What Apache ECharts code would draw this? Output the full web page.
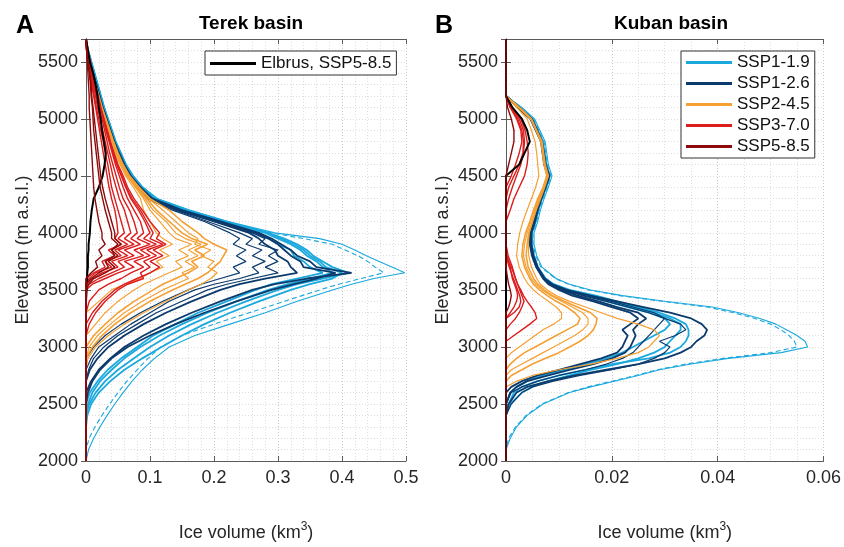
<!DOCTYPE html>
<html><head><meta charset="utf-8">
<script src="https://cdn.jsdelivr.net/npm/echarts/dist/echarts.min.js"></script>
<style>html,body{margin:0;padding:0;background:#fff}#c{width:844px;height:547px}</style>
</head><body><div id="c"></div>
<script>
// ---------- Panel A: Terek basin (elevation grid, m a.s.l.) ----------
const elevA = [2000,2100,2200,2300,2400,2500,2600,2700,2800,2900,
  3000,3100,3200,3300,3400,3500,
  3550,3600,3650,3700,3750,3800,3850,3900,3950,
  4000,4100,4200,4300,4400,4500,4600,4700,4800,4900,
  5000,5100,5200,5300,5400,5500,5600,5700];

// ice volume (km3) per elevation, one array per profile
const terekSSP119 = [
 [0,0.004,0.012,0.022,0.033,0.045,0.058,0.072,0.088,0.107, 0.13,0.17,0.225,0.28,0.33,0.385, 0.415,0.45,0.498,0.478,0.458,0.438,0.42,0.40,0.365, 0.295,0.222,0.162,0.112,0.089,0.074,0.063,0.055,0.047,0.041, 0.035,0.029,0.024,0.019,0.014,0.009,0.004,0],
 [0,0,0,0,0,0.005,0.015,0.03,0.05,0.075, 0.1,0.13,0.165,0.205,0.25,0.3, 0.33,0.37,0.41,0.385,0.37,0.355,0.345,0.33,0.31, 0.285,0.218,0.158,0.109,0.088,0.073,0.062,0.054,0.046,0.04, 0.034,0.028,0.023,0.018,0.013,0.008,0.003,0],
 [0,0,0,0,0,0.003,0.01,0.022,0.04,0.06, 0.085,0.115,0.15,0.19,0.235,0.285, 0.315,0.35,0.385,0.37,0.36,0.345,0.335,0.32,0.3, 0.28,0.215,0.156,0.108,0.087,0.072,0.061,0.053,0.045,0.039, 0.033,0.027,0.022,0.017,0.012,0.007,0.003,0],
 [0,0,0,0,0,0,0.006,0.018,0.034,0.055, 0.08,0.105,0.14,0.175,0.22,0.265, 0.29,0.33,0.37,0.35,0.34,0.325,0.32,0.3,0.285, 0.27,0.21,0.152,0.106,0.086,0.071,0.06,0.052,0.044,0.038, 0.032,0.026,0.021,0.016,0.011,0.006,0.002,0],
 [0,0,0,0,0.002,0.008,0.02,0.038,0.06,0.088, 0.118,0.15,0.185,0.225,0.27,0.32, 0.35,0.385,0.4,0.375,0.365,0.35,0.34,0.325,0.305, 0.283,0.217,0.157,0.108,0.088,0.073,0.062,0.054,0.046,0.04, 0.034,0.028,0.023,0.018,0.013,0.008,0.003,0]
];
const terekSSP119Dashed = [0,0,0.005,0.014,0.025,0.037,0.05,0.064,0.08,0.097, 0.117,0.15,0.2,0.255,0.31,0.365, 0.395,0.43,0.465,0.452,0.44,0.425,0.405,0.385,0.34, 0.29,0.218,0.158,0.108,0.087,0.072,0.061,0.053,0.045,0.039, 0.033,0.027,0.022,0.017,0.012,0.007,0.002,0];
const terekSSP126 = [
 [0,0,0,0,0,0,0,0.008,0.02,0.038, 0.06,0.09,0.125,0.165,0.21,0.26, 0.295,0.345,0.415,0.36,0.35,0.33,0.32,0.305,0.29, 0.27,0.21,0.15,0.104,0.085,0.07,0.06,0.052,0.044,0.038, 0.032,0.026,0.021,0.016,0.011,0.006,0.002,0],
 [0,0,0,0,0,0,0,0,0.006,0.018, 0.035,0.06,0.09,0.125,0.165,0.21, 0.24,0.28,0.33,0.32,0.315,0.3,0.295,0.28,0.27, 0.255,0.2,0.145,0.1,0.082,0.068,0.058,0.05,0.043,0.037, 0.031,0.025,0.02,0.015,0.01,0.006,0.002,0],
 [0,0,0,0,0,0,0.003,0.01,0.022,0.04, 0.065,0.1,0.14,0.185,0.235,0.29, 0.325,0.36,0.39,0.34,0.335,0.32,0.31,0.3,0.285, 0.265,0.205,0.148,0.102,0.084,0.069,0.059,0.051,0.044,0.038, 0.032,0.026,0.021,0.016,0.011,0.006,0.002,0],
 [0,0,0,0,0,0,0,0,0,0.008, 0.02,0.045,0.07,0.1,0.13,0.17, 0.2,0.24,0.27,0.26,0.28,0.26,0.275,0.25,0.26, 0.24,0.19,0.14,0.098,0.08,0.067,0.057,0.049,0.042,0.036, 0.03,0.025,0.02,0.015,0.01,0.005,0.002,0],
 [0,0,0,0,0,0,0,0,0,0, 0.012,0.03,0.055,0.085,0.12,0.16, 0.18,0.21,0.24,0.23,0.25,0.235,0.25,0.23,0.24, 0.225,0.185,0.135,0.096,0.079,0.066,0.056,0.048,0.041,0.035, 0.03,0.024,0.019,0.014,0.01,0.005,0.002,0],
 [0,0,0,0,0,0,0,0,0.004,0.012, 0.028,0.05,0.08,0.11,0.15,0.19, 0.22,0.26,0.3,0.28,0.3,0.285,0.3,0.27,0.28, 0.26,0.2,0.142,0.099,0.081,0.067,0.057,0.049,0.042,0.036, 0.031,0.025,0.02,0.015,0.01,0.005,0.002,0]
];
const terekSSP245 = [
 [0,0,0,0,0,0,0,0,0,0, 0.01,0.025,0.045,0.07,0.1,0.135, 0.155,0.175,0.19,0.2,0.21,0.215,0.22,0.2,0.185, 0.175,0.15,0.13,0.1,0.083,0.068,0.058,0.05,0.043,0.037, 0.031,0.025,0.02,0.015,0.01,0.006,0.002,0],
 [0,0,0,0,0,0,0,0,0,0, 0,0.012,0.03,0.05,0.075,0.105, 0.12,0.14,0.16,0.175,0.165,0.185,0.17,0.19,0.165, 0.15,0.13,0.11,0.095,0.08,0.066,0.056,0.048,0.042,0.036, 0.03,0.024,0.019,0.014,0.01,0.005,0.002,0],
 [0,0,0,0,0,0,0,0,0,0, 0,0,0.015,0.03,0.05,0.075, 0.09,0.11,0.13,0.15,0.14,0.16,0.145,0.165,0.14, 0.13,0.115,0.1,0.09,0.077,0.064,0.055,0.047,0.041,0.035, 0.029,0.024,0.019,0.014,0.009,0.005,0.002,0],
 [0,0,0,0,0,0,0,0,0,0, 0,0,0,0,0.02,0.04, 0.06,0.085,0.1,0.12,0.11,0.13,0.115,0.135,0.12, 0.11,0.1,0.09,0.085,0.074,0.062,0.053,0.046,0.04,0.034, 0.028,0.023,0.018,0.013,0.009,0.005,0.002,0],
 [0,0,0,0,0,0,0,0,0,0.003, 0.015,0.035,0.06,0.09,0.125,0.16, 0.18,0.195,0.205,0.19,0.2,0.18,0.195,0.17,0.175, 0.16,0.14,0.12,0.098,0.082,0.067,0.057,0.049,0.043,0.037, 0.031,0.025,0.02,0.015,0.01,0.006,0.002,0],
 [0,0,0,0,0,0,0,0,0,0, 0.005,0.018,0.038,0.06,0.088,0.12, 0.14,0.16,0.15,0.17,0.155,0.175,0.16,0.18,0.155, 0.14,0.125,0.105,0.092,0.078,0.065,0.055,0.047,0.041,0.035, 0.029,0.024,0.019,0.014,0.009,0.005,0.002,0]
];
const terekSSP370 = [
 [0,0,0,0,0,0,0,0,0,0, 0,0,0,0,0,0, 0.01,0.03,0.05,0.075,0.06,0.09,0.075,0.1,0.08, 0.09,0.085,0.075,0.065,0.058,0.052,0.046,0.041,0.036,0.031, 0.027,0.022,0.018,0.014,0.01,0.006,0.002,0],
 [0,0,0,0,0,0,0,0,0,0, 0,0,0,0,0,0, 0,0.01,0.025,0.05,0.04,0.065,0.05,0.075,0.06, 0.07,0.065,0.06,0.052,0.047,0.042,0.038,0.034,0.03,0.026, 0.022,0.018,0.015,0.011,0.008,0.004,0.001,0],
 [0,0,0,0,0,0,0,0,0,0, 0,0,0,0.01,0.025,0.045, 0.06,0.08,0.1,0.115,0.1,0.12,0.105,0.125,0.11, 0.115,0.1,0.088,0.075,0.065,0.058,0.05,0.044,0.038,0.033, 0.028,0.023,0.019,0.015,0.011,0.007,0.003,0],
 [0,0,0,0,0,0,0,0,0,0, 0,0,0,0,0,0, 0,0,0.012,0.03,0.025,0.045,0.035,0.055,0.045, 0.05,0.048,0.045,0.04,0.036,0.033,0.03,0.027,0.024,0.021, 0.018,0.015,0.012,0.009,0.006,0.003,0.001,0],
 [0,0,0,0,0,0,0,0,0,0, 0,0,0,0,0.005,0.02, 0.035,0.055,0.07,0.09,0.075,0.1,0.085,0.11,0.09, 0.1,0.092,0.082,0.07,0.062,0.055,0.048,0.042,0.037,0.032, 0.027,0.022,0.018,0.014,0.01,0.006,0.002,0],
 [0,0,0,0,0,0,0,0,0,0, 0,0,0,0,0,0, 0.005,0.02,0.04,0.06,0.05,0.075,0.06,0.085,0.07, 0.08,0.075,0.068,0.058,0.052,0.047,0.042,0.037,0.033,0.029, 0.025,0.02,0.016,0.012,0.009,0.005,0.002,0],
 [0,0,0,0,0,0,0,0,0,0, 0,0,0.005,0.015,0.03,0.05, 0.065,0.09,0.085,0.1,0.09,0.11,0.095,0.12,0.1, 0.105,0.095,0.085,0.072,0.063,0.056,0.049,0.043,0.038,0.033, 0.028,0.023,0.018,0.014,0.01,0.006,0.002,0],
 [0,0,0,0,0,0,0,0,0,0, 0,0,0,0,0,0, 0,0.005,0.015,0.04,0.03,0.055,0.045,0.065,0.05, 0.06,0.055,0.05,0.045,0.04,0.037,0.034,0.03,0.027,0.023, 0.02,0.016,0.013,0.01,0.007,0.004,0.001,0]
];
const terekSSP585 = [
 [0,0,0,0,0,0,0,0,0,0, 0,0,0,0,0,0, 0,0.008,0.02,0.035,0.03,0.045,0.04,0.05,0.04, 0.04,0.035,0.03,0.026,0.022,0.02,0.018,0.016,0.014,0.012, 0.011,0.01,0.008,0.007,0.005,0.003,0.001,0],
 [0,0,0,0,0,0,0,0,0,0, 0,0,0,0,0,0, 0,0,0.008,0.018,0.015,0.025,0.02,0.03,0.025, 0.025,0.02,0.017,0.014,0.012,0.011,0.01,0.009,0.008,0.007, 0.006,0.005,0.005,0.004,0.003,0.002,0.001,0],
 [0,0,0,0,0,0,0,0,0,0, 0,0,0,0,0,0, 0.004,0.012,0.03,0.045,0.035,0.05,0.04,0.055,0.045, 0.045,0.04,0.035,0.03,0.026,0.023,0.021,0.019,0.017,0.015, 0.013,0.011,0.009,0.008,0.006,0.003,0.001,0]
];
const terekElbrus = [0,0,0,0,0,0,0,0,0,0, 0,0,0,0,0,0.001, 0.001,0.002,0.002,0.003,0.003,0.003,0.004,0.004,0.005, 0.006,0.007,0.009,0.012,0.02,0.026,0.029,0.031,0.028,0.025, 0.023,0.02,0.018,0.015,0.011,0.006,0.003,0];

// ---------- Panel B: Kuban basin ----------
const elevB = [2000,2100,2200,2300,2400,2500,2600,
  2650,2700,2750,2800,2850,2900,2950,3000,3050,3100,
  3150,3200,3250,3300,3350,3400,3450,3500,3550,3600,
  3700,3800,3900,4000,4100,4200,4300,4400,4500,4600,
  4700,4800,4900,5000,5100,5200,5300,5400,5500,5600,5700];

const kubanSSP119 = [
 [0,0,0.0008,0.002,0.004,0.007,0.012, 0.016,0.0205,0.025,0.029,0.035,0.042,0.052,0.057,0.0565,0.055, 0.053,0.051,0.048,0.044,0.039,0.03,0.022,0.016,0.012,0.0095, 0.0068,0.0058,0.0053,0.0053,0.006,0.0065,0.0072,0.008,0.0087,0.008, 0.0077,0.0074,0.0064,0.0054,0.003,0,0,0,0,0,0],
 [0,0,0,0,0,0.0005,0.0015, 0.003,0.006,0.01,0.015,0.02,0.027,0.031,0.033,0.034,0.0345, 0.0345,0.034,0.032,0.029,0.025,0.021,0.017,0.012,0.009,0.0075, 0.006,0.0053,0.0049,0.0049,0.0056,0.0061,0.0068,0.0076,0.0083,0.0076, 0.0073,0.007,0.006,0.005,0.0026,0,0,0,0,0,0],
 [0,0,0,0,0,0.0008,0.003, 0.005,0.008,0.012,0.016,0.021,0.025,0.028,0.03,0.031,0.032, 0.033,0.033,0.031,0.028,0.024,0.02,0.016,0.0115,0.0088,0.0074, 0.0059,0.0052,0.0048,0.0048,0.0055,0.006,0.0067,0.0075,0.0082,0.0075, 0.0072,0.0069,0.0059,0.0049,0.0025,0,0,0,0,0,0],
 [0,0,0,0,0,0,0.0008, 0.002,0.004,0.007,0.011,0.015,0.019,0.022,0.024,0.026,0.028, 0.03,0.031,0.03,0.027,0.023,0.019,0.015,0.011,0.0085,0.0072, 0.0058,0.0051,0.0047,0.0047,0.0054,0.0059,0.0066,0.0074,0.0081,0.0074, 0.0071,0.0068,0.0058,0.0048,0.0024,0,0,0,0,0,0]
];
const kubanSSP119Dashed = [0,0,0.0005,0.0018,0.0038,0.0068,0.0118, 0.0155,0.02,0.0245,0.0285,0.034,0.041,0.05,0.055,0.0545,0.0535, 0.052,0.05,0.047,0.043,0.038,0.0295,0.0215,0.0155,0.0118,0.0093, 0.0066,0.0056,0.0051,0.0051,0.0058,0.0063,0.007,0.0078,0.0085,0.0078, 0.0075,0.0072,0.0062,0.0052,0.0028,0,0,0,0,0,0];
const kubanSSP126 = [
 [0,0,0,0,0,0.0005,0.002, 0.004,0.008,0.013,0.019,0.025,0.03,0.033,0.035,0.036,0.0375, 0.038,0.037,0.035,0.031,0.026,0.021,0.016,0.0115,0.0088,0.0073, 0.006,0.0052,0.0048,0.0048,0.0055,0.006,0.0067,0.0075,0.0082,0.0075, 0.0072,0.0068,0.0059,0.0049,0.0025,0,0,0,0,0,0],
 [0,0,0,0,0,0,0.0008, 0.002,0.004,0.008,0.012,0.0165,0.02,0.0225,0.0235,0.024,0.0245, 0.024,0.025,0.0265,0.025,0.021,0.0175,0.0135,0.0105,0.0083,0.0072, 0.0058,0.005,0.0046,0.0046,0.0053,0.0058,0.0065,0.0073,0.008,0.0073, 0.007,0.0067,0.0057,0.0047,0.0023,0,0,0,0,0,0],
 [0,0,0,0,0,0,0, 0.001,0.003,0.006,0.01,0.014,0.018,0.021,0.022,0.0225,0.023, 0.022,0.0235,0.025,0.0235,0.02,0.0165,0.0125,0.01,0.008,0.007, 0.0057,0.0049,0.0045,0.0045,0.0052,0.0057,0.0064,0.0072,0.0079,0.0072, 0.0069,0.0066,0.0056,0.0046,0.0022,0,0,0,0,0,0],
 [0,0,0,0,0,0.001,0.003, 0.005,0.009,0.014,0.02,0.025,0.028,0.03,0.031,0.029,0.032, 0.034,0.033,0.03,0.027,0.023,0.019,0.0145,0.0108,0.0085,0.0073, 0.0059,0.0051,0.0047,0.0047,0.0054,0.0059,0.0066,0.0074,0.0081,0.0074, 0.0071,0.0067,0.0058,0.0048,0.0024,0,0,0,0,0,0],
 [0,0,0,0,0,0,0.001, 0.003,0.006,0.01,0.015,0.019,0.022,0.024,0.025,0.026,0.027, 0.028,0.029,0.03,0.028,0.024,0.02,0.015,0.011,0.0086,0.0073, 0.0058,0.005,0.0046,0.0046,0.0053,0.0058,0.0065,0.0073,0.008,0.0073, 0.007,0.0067,0.0057,0.0047,0.0023,0,0,0,0,0,0]
];
const kubanSSP245 = [
 [0,0,0,0,0,0,0, 0,0,0,0,0.0008,0.002,0.0035,0.0055,0.0075,0.0095, 0.0115,0.0135,0.014,0.013,0.0115,0.0095,0.0078,0.0063,0.0052,0.0045, 0.0035,0.003,0.0032,0.0037,0.0045,0.0052,0.006,0.007,0.0077,0.0072, 0.007,0.0066,0.0057,0.0047,0.0024,0,0,0,0,0,0],
 [0,0,0,0,0,0,0, 0,0,0.001,0.003,0.005,0.0075,0.01,0.012,0.014,0.0155, 0.0165,0.017,0.0172,0.016,0.0135,0.011,0.0088,0.0072,0.006,0.0052, 0.0042,0.0038,0.004,0.0043,0.005,0.0057,0.0065,0.0073,0.008,0.0074, 0.0071,0.0068,0.0058,0.0048,0.0025,0,0,0,0,0,0],
 [0,0,0,0,0,0,0, 0,0,0,0,0,0,0.001,0.0025,0.004,0.0055, 0.007,0.009,0.0105,0.0105,0.0095,0.008,0.0065,0.0052,0.0042,0.0035, 0.0025,0.002,0.0022,0.0026,0.0032,0.004,0.0048,0.0056,0.0062,0.006, 0.0058,0.0055,0.0048,0.004,0.002,0,0,0,0,0,0],
 [0,0,0,0,0,0,0, 0,0.002,0.005,0.01,0.016,0.021,0.025,0.027,0.028,0.029, 0.028,0.025,0.021,0.018,0.015,0.012,0.0095,0.0078,0.0065,0.0058, 0.0048,0.0043,0.0042,0.0044,0.005,0.0056,0.0063,0.0071,0.0078,0.0072, 0.0069,0.0066,0.0057,0.0047,0.0024,0,0,0,0,0,0],
 [0,0,0,0,0,0,0, 0,0,0,0.001,0.003,0.005,0.007,0.009,0.011,0.013, 0.0145,0.0155,0.0155,0.0145,0.0125,0.0105,0.0085,0.0068,0.0056,0.0048, 0.0038,0.0033,0.0035,0.004,0.0047,0.0054,0.0062,0.0071,0.0078,0.0073, 0.007,0.0067,0.0057,0.0047,0.0024,0,0,0,0,0,0]
];
const kubanSSP370 = [
 [0,0,0,0,0,0,0, 0,0,0,0,0,0,0,0,0,0.0015, 0.003,0.0045,0.0058,0.0055,0.0048,0.004,0.0033,0.0028,0.0022,0.0018, 0.001,0,0,0,0,0.0008,0.0015,0.0025,0.0035,0.004, 0.0042,0.004,0.0036,0.0028,0.0012,0,0,0,0,0,0],
 [0,0,0,0,0,0,0, 0,0,0,0,0,0,0,0,0,0, 0,0,0,0.0015,0.0025,0.0028,0.0026,0.0022,0.0018,0.0014, 0.0006,0,0,0,0,0,0,0,0.001,0.0018, 0.0025,0.003,0.0028,0.002,0.0008,0,0,0,0,0,0],
 [0,0,0,0,0,0,0, 0,0,0,0,0,0,0,0,0,0, 0,0.0008,0.0018,0.0025,0.003,0.0034,0.003,0.0026,0.0022,0.0018, 0.0012,0.0004,0,0,0,0,0.0005,0.0012,0.002,0.0028, 0.0033,0.0035,0.0033,0.0025,0.001,0,0,0,0,0,0],
 [0,0,0,0,0,0,0, 0,0,0,0,0,0,0,0,0,0, 0,0,0,0.0008,0.0015,0.002,0.0022,0.002,0.0016,0.0012, 0.0008,0.0002,0,0,0,0,0,0.0005,0.0015,0.0025, 0.0032,0.0033,0.003,0.0022,0.0008,0,0,0,0,0,0]
];
const kubanSSP585 = [
 [0,0,0,0,0,0,0, 0,0,0,0,0,0,0,0,0,0, 0,0,0,0,0.0005,0.0008,0.001,0.0008,0.0005,0.0003, 0,0,0,0,0,0,0,0,0,0.0005, 0.001,0.0015,0.0015,0.001,0.0003,0,0,0,0,0,0]
];
const kubanElbrus = [0,0,0,0,0,0,0, 0,0,0,0,0,0,0,0,0,0, 0,0,0,0,0,0,0,0,0,0, 0,0,0,0,0,0,0,0,0,0.0025, 0.0035,0.0045,0.004,0.003,0.0012,0,0,0,0,0,0];

const xTicksA = {max: 0.5, step: 0.1};
const xTicksB = {max: 0.06, step: 0.02};
const yTicks = {min: 2000, max: 5700, step: 500};
const scenarioNames = ['SSP1-1.9','SSP1-2.6','SSP2-4.5','SSP3-7.0','SSP5-8.5'];
const elbrusName = 'Elbrus, SSP5-8.5';

// ---------- styling ----------
const COL = {'SSP1-1.9':'#1ba9dd','SSP1-2.6':'#0b3a6c','SSP2-4.5':'#f5a033','SSP3-7.0':'#dc1d1d','SSP5-8.5':'#8e0a0a'};
const FONT = 'Liberation Sans';

const chart = echarts.init(document.getElementById('c'), null, {renderer:'canvas'});

function line(panel, elev, vals, name, color, width, dashed) {
  return {
    type:'line', name, xAxisIndex: panel*2, yAxisIndex: panel*3,
    data: vals.map((v,i)=>[v, elev[i]]),
    showSymbol:false, symbol:'none', silent:true, animation:false,
    lineStyle:{color, width, type: dashed ? [5,3] : 'solid'},
    itemStyle:{color}
  };
}
function panelSeries(panel, elev, sets) {
  const s = [];
  const [s119, s119d, s126, s245, s370, s585, elb] = sets;
  s119.forEach((a,i)=>s.push(line(panel, elev, a, 'SSP1-1.9', COL['SSP1-1.9'], i===0?1.1:1.8)));
  s.push(line(panel, elev, s119d, 'SSP1-1.9', COL['SSP1-1.9'], 1.1, true));
  s126.forEach((a,i)=>s.push(line(panel, elev, a, 'SSP1-2.6', COL['SSP1-2.6'], i<3?1.8:1.2)));
  s245.forEach((a,i)=>s.push(line(panel, elev, a, 'SSP2-4.5', COL['SSP2-4.5'], i<2?1.6:1.2)));
  s370.forEach((a,i)=>s.push(line(panel, elev, a, 'SSP3-7.0', COL['SSP3-7.0'], 1.4)));
  s.push(line(panel, elev, elb, elbrusName, '#000000', 2));
  s585.forEach((a,i)=>s.push(line(panel, elev, a, 'SSP5-8.5', COL['SSP5-8.5'], 1.4)));
  return s;
}

const frame = '#5a5a5a';
function xAxes(grid, t) {
  const fmt = v => String(+v.toFixed(3));
  return [
    {type:'value', gridIndex:grid, position:'bottom', min:0, max:t.max, interval:t.step,
     axisLine:{show:true, lineStyle:{color:frame, width:1}},
     axisTick:{show:true, inside:true, length:5, lineStyle:{color:frame}},
     axisLabel:{color:'#262626', fontSize:18, fontFamily:FONT, margin:8, formatter:fmt},
     splitLine:{show:true, lineStyle:{color:'#c8c8c8', type:[1,2], width:1}},
     minorTick:{show:false, splitNumber: grid===0?5:4},
     minorSplitLine:{show:true, lineStyle:{color:'#dedede', type:[1,2], width:1}},
     name:'Ice volume (km{s|3})', nameLocation:'middle', nameGap:60,
     nameTextStyle:{color:'#262626', fontSize:18, fontFamily:FONT,
       rich:{s:{fontSize:12, fontFamily:FONT, color:'#262626', padding:[0,0,12,0]}}}},
    {type:'value', gridIndex:grid, position:'top', min:0, max:t.max, interval:t.step,
     axisLine:{show:true, lineStyle:{color:frame, width:1}},
     axisTick:{show:true, inside:true, length:5, lineStyle:{color:frame}},
     axisLabel:{show:false}, splitLine:{show:false}}
  ];
}
function yAxes(grid) {
  return [
    {type:'value', gridIndex:grid, position:'left', min:yTicks.min, max:yTicks.max, interval:yTicks.step,
     axisLine:{show:true, lineStyle:{color:frame, width:1}},
     axisTick:{show:true, inside:true, length:5, lineStyle:{color:frame}},
     axisLabel:{color:'#262626', fontSize:18, fontFamily:FONT, margin:8, showMaxLabel:false, formatter: v => String(v)},
     splitLine:{show:true, lineStyle:{color:'#c8c8c8', type:[1,2], width:1}},
     name:'Elevation (m a.s.l.)', nameLocation:'middle', nameGap:54,
     nameTextStyle:{color:'#262626', fontSize:18, fontFamily:FONT}},
    {type:'value', gridIndex:grid, position:'right', min:yTicks.min, max:yTicks.max, interval:yTicks.step,
     axisLine:{show:true, lineStyle:{color:frame, width:1}},
     axisTick:{show:true, inside:true, length:5, lineStyle:{color:frame}},
     axisLabel:{show:false}, splitLine:{show:false}},
    {type:'value', gridIndex:grid, position:'right', min:yTicks.min, max:yTicks.max, interval:100,
     axisLine:{show:false}, axisTick:{show:false}, axisLabel:{show:false},
     splitLine:{show:true, lineStyle:{color:'#dedede', type:[1,2], width:1}}}
  ];
}

const legendCommon = {orient:'vertical', icon:'rect', itemWidth:46, itemHeight:3, itemGap:4,
  backgroundColor:'#fff', borderColor:'#333', borderWidth:1, selectedMode:false,
  textStyle:{fontSize:17, fontFamily:FONT, color:'#111', lineHeight:17}};

const option = {
  animation:false,
  backgroundColor:'#fff',
  title:[
    {text:'A', left:11, top:9, textStyle:{fontSize:25, fontWeight:'bold', fontFamily:FONT, color:'#000'}},
    {text:'Terek basin', left:246, top:9, textAlign:'center', textStyle:{fontSize:19, fontWeight:'bold', fontFamily:FONT, color:'#000'}},
    {text:'B', left:430, top:9, textStyle:{fontSize:25, fontWeight:'bold', fontFamily:FONT, color:'#000'}},
    {text:'Kuban basin', left:666, top:9, textAlign:'center', textStyle:{fontSize:19, fontWeight:'bold', fontFamily:FONT, color:'#000'}}
  ],
  legend:[
    Object.assign({}, legendCommon, {data:[elbrusName], left:205, top:51, padding:[4,5,3,5]}),
    Object.assign({}, legendCommon, {data:scenarioNames, left:681, top:51, padding:[3,5,3,5]})
  ],
  grid:[
    {left:86, top:39, width:320, height:423, containLabel:false},
    {left:506, top:39, width:320, height:423, containLabel:false}
  ],
  xAxis:[...xAxes(0, xTicksA), ...xAxes(1, xTicksB)],
  yAxis:[...yAxes(0), ...yAxes(1)],
  series:[
    ...panelSeries(0, elevA, [terekSSP119, terekSSP119Dashed, terekSSP126, terekSSP245, terekSSP370, terekSSP585, terekElbrus]),
    ...panelSeries(1, elevB, [kubanSSP119, kubanSSP119Dashed, kubanSSP126, kubanSSP245, kubanSSP370, kubanSSP585, kubanElbrus])
  ]
};
chart.setOption(option);
</script>
</body></html>
